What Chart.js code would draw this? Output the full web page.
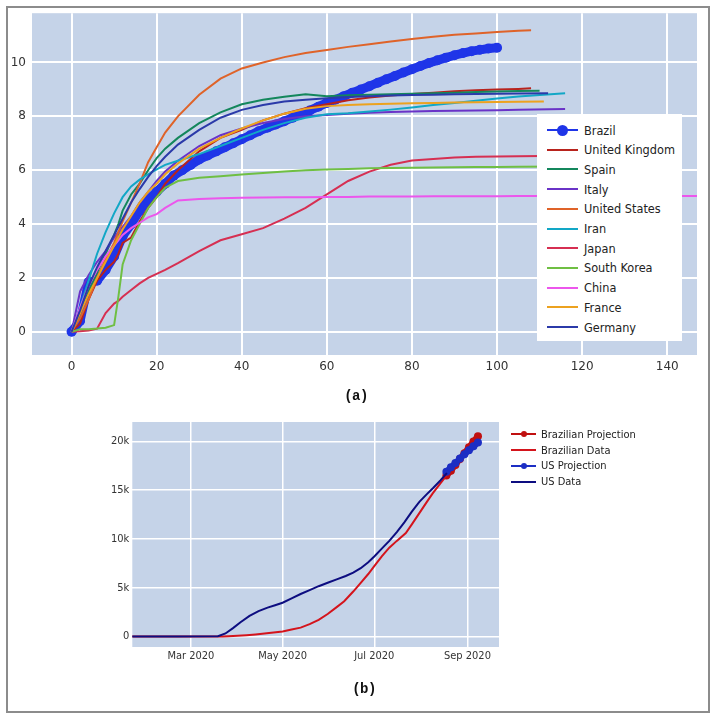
<!DOCTYPE html>
<html>
<head>
<meta charset="utf-8">
<script src="https://cdn.jsdelivr.net/npm/chart.js@4.4.0/dist/chart.umd.min.js"></script>
<style>
  body { margin: 0; width: 716px; height: 720px; position: relative; background: #fff; overflow: hidden; }
  #frame { position: absolute; left: 6px; top: 6px; width: 704px; height: 707px; box-sizing: border-box; border: 2px solid #8c8c8c; }
  canvas { position: absolute; left: 0; }
  #topChart { top: 0; }
  #bottomChart { top: 400px; }
  .legend { position: absolute; font-family: "DejaVu Sans Condensed", "DejaVu Sans", sans-serif; color: #222; }
  #topLegend { left: 537px; top: 114px; width: 145px; height: 227px; font-size: 12.6px; background: #fff; }
  #bottomLegend { left: 508px; top: 424px; width: 190px; height: 70px; font-size: 11px; }
  .row { position: absolute; left: 0; display: flex; align-items: center; white-space: nowrap; }
  .swatch { position: relative; display: inline-block; height: 100%; }
  .swatch .ln { position: absolute; left: 0; right: 0; top: 50%; height: 2px; margin-top: -1px; }
  .swatch .dot { position: absolute; left: 50%; top: 50%; border-radius: 50%; }
  .caption { position: absolute; font-family: "Liberation Mono", "DejaVu Sans Mono", monospace; font-weight: bold; font-size: 14px; letter-spacing: -0.5px; color: #111; transform: translate(-50%, -50%); }
</style>
</head>
<body>
<div id="frame"></div>
<canvas id="topChart" width="716" height="385"></canvas>
<canvas id="bottomChart" width="716" height="270"></canvas>
<div id="topLegend" class="legend"></div>
<div id="bottomLegend" class="legend"></div>
<div class="caption" style="left:356px; top:396px;">(a)</div>
<div class="caption" style="left:364px; top:689px;">(b)</div>
<script>
// ---- chart (a): country curves ----
const countries = ['Brazil', 'United Kingdom', 'Spain', 'Italy', 'United States', 'Iran', 'Japan', 'South Korea', 'China', 'France', 'Germany'];

const brazilDays = [0, 2, 4, 6, 8, 10, 12, 14, 16, 18, 20, 22, 24, 26, 28, 30, 32, 34, 36, 38, 40, 42, 44, 46, 48, 50,
    52, 54, 56, 58, 60, 62, 64, 66, 68, 70, 72, 74, 76, 78, 80, 82, 84, 86, 88, 90, 92, 94, 96, 98, 100];
const brazilValues = [0, 0.4, 1.85, 1.9, 2.3, 2.8, 3.55, 4.0, 4.5, 4.9, 5.2, 5.5, 5.8, 6.0, 6.2, 6.4, 6.55, 6.7, 6.85, 7.0, 7.15,
    7.3, 7.45, 7.58, 7.7, 7.82, 7.95, 8.08, 8.22, 8.36, 8.5, 8.62, 8.75, 8.88, 9.0, 9.12, 9.25, 9.38, 9.5, 9.63, 9.75,
    9.87, 9.98, 10.08, 10.18, 10.27, 10.35, 10.42, 10.47, 10.52, 10.55];

// other countries share this day grid, then end on their own last day
const dayGrid = [0, 2, 4, 6, 8, 10, 11, 12, 14, 16, 18, 20, 22, 25, 30, 35, 40, 45, 50, 55, 60, 65, 70, 75, 80, 85, 90, 95, 100, 105];
const ukValues = [0, 0.3, 1.2, 1.9, 2.3, 2.6, 2.9, 3.3, 3.5, 4.1, 4.6, 5.0, 5.5, 6.0, 6.7, 7.2, 7.5, 7.85, 8.1, 8.3, 8.45, 8.6, 8.7, 8.77, 8.83, 8.88, 8.93, 8.97, 9.0, 9.02];
const spainValues = [0, 0.7, 1.5, 2.2, 2.9, 3.6, 4.0, 4.5, 5.1, 5.5, 6.0, 6.45, 6.8, 7.2, 7.75, 8.15, 8.45, 8.62, 8.73, 8.82, 8.75, 8.78, 8.8, 8.82, 8.84, 8.86, 8.88, 8.9, 8.92, 8.94];
const italyValues = [0, 1.5, 2.1, 2.6, 3.0, 3.5, 3.7, 3.9, 4.3, 4.8, 5.2, 5.6, 5.95, 6.35, 6.9, 7.3, 7.55, 7.75, 7.9, 8.0, 8.05, 8.1, 8.13, 8.16, 8.18, 8.2, 8.21, 8.22, 8.23, 8.25];
const usValues = [0, 0.5, 1.2, 2.0, 2.7, 3.3, 3.7, 4.1, 4.8, 5.5, 6.3, 6.85, 7.4, 8.0, 8.8, 9.4, 9.78, 10.0, 10.2, 10.35, 10.46, 10.58, 10.68, 10.78, 10.87, 10.96, 11.03, 11.08, 11.13, 11.18];
const iranValues = [0, 0.9, 1.9, 2.9, 3.7, 4.4, 4.7, 5.0, 5.4, 5.65, 5.85, 6.03, 6.2, 6.35, 6.6, 6.9, 7.2, 7.5, 7.75, 7.95, 8.08, 8.12, 8.18, 8.25, 8.33, 8.42, 8.5, 8.58, 8.66, 8.74];
const japanValues = [0, 0.02, 0.05, 0.12, 0.7, 1.05, 1.15, 1.3, 1.55, 1.8, 2.0, 2.15, 2.3, 2.55, 3.0, 3.4, 3.62, 3.85, 4.2, 4.6, 5.1, 5.6, 5.95, 6.2, 6.36, 6.42, 6.47, 6.5, 6.51, 6.52];
const koreaValues = [0, 0.1, 0.1, 0.12, 0.15, 0.25, 1.3, 2.5, 3.4, 4.0, 4.6, 5.0, 5.35, 5.6, 5.72, 5.78, 5.84, 5.9, 5.95, 6.0, 6.03, 6.05, 6.07, 6.08, 6.09, 6.1, 6.11, 6.12, 6.12, 6.13];
const chinaValues = [0, 0.9, 1.7, 2.3, 2.8, 3.2, 3.4, 3.6, 3.85, 4.05, 4.25, 4.37, 4.6, 4.88, 4.93, 4.96, 4.98, 4.99, 5.0, 5.0, 5.01, 5.01, 5.02, 5.02, 5.02, 5.03, 5.03, 5.03, 5.03, 5.04];
const franceValues = [0, 0.7, 1.4, 2.0, 2.6, 3.2, 3.5, 3.8, 4.3, 4.8, 5.2, 5.5, 5.85, 6.25, 6.8, 7.2, 7.55, 7.85, 8.1, 8.28, 8.38, 8.42, 8.45, 8.47, 8.49, 8.5, 8.51, 8.52, 8.53, 8.54];
const germanyValues = [0, 0.8, 1.7, 2.4, 3.0, 3.6, 3.9, 4.2, 4.8, 5.3, 5.75, 6.15, 6.5, 6.95, 7.5, 7.95, 8.24, 8.42, 8.55, 8.62, 8.67, 8.72, 8.75, 8.77, 8.79, 8.8, 8.82, 8.83, 8.84, 8.85];
// UK, Spain, Italy, US, Iran, Japan, South Korea, China, France, Germany
const lastDay = [108, 110, 116, 108, 116, 116, 116, 150, 111, 112];
const lastValue = [9.04, 8.95, 8.27, 11.2, 8.86, 6.54, 6.14, 5.04, 8.55, 8.86];

const topXTicks = [0, 20, 40, 60, 80, 100, 120, 140];
const topYTicks = [0, 2, 4, 6, 8, 10];

// ---- chart (b): Brazil vs US ----
const seriesB = ['Brazilian Projection', 'Brazilian Data', 'US Projection', 'US Data'];
// days counted from 22 Jan 2020
const brDays = [0, 40, 60, 64, 70, 76, 82, 88, 94, 100, 106, 112, 118, 124, 130, 136, 141, 147, 152, 157, 161, 166, 171, 176, 182, 186, 191, 196, 200, 205, 209];
const brData = [0, 0, 0, 20, 60, 120, 200, 300, 400, 500, 700, 900, 1250, 1700, 2300, 3000, 3600, 4600, 5500, 6400, 7200, 8200, 9100, 9800, 10600, 11500, 12650, 13800, 14700, 15700, 16500];
const usDays = [0, 30, 57, 62, 67, 72, 78, 84, 90, 95, 100, 106, 112, 118, 124, 130, 136, 142, 147, 152, 157, 161, 166, 171, 176, 181, 186, 191, 196, 200, 205, 209];
const usData = [0, 0, 20, 300, 850, 1450, 2100, 2600, 2950, 3200, 3450, 3900, 4350, 4750, 5150, 5500, 5850, 6200, 6550, 7000, 7600, 8200, 9000, 9800, 10700, 11700, 12800, 13800, 14600, 15200, 16000, 16700];
const projDays = [209, 212, 215, 218, 221, 224, 227, 230];
const brProjection = [16500, 17000, 17600, 18200, 18800, 19400, 20000, 20550];
const usProjection = [16900, 17350, 17800, 18250, 18700, 19100, 19500, 19900];

const bottomXTicks = [39, 100, 161, 223];
const bottomXLabels = ['Mar 2020', 'May 2020', 'Jul 2020', 'Sep 2020'];
const bottomYTicks = [0, 5000, 10000, 15000, 20000];
const bottomYLabels = ['0', '5k', '10k', '15k', '20k'];

// ---- styles ----
const countryColors = ['#1f35e8', '#b8231d', '#14875c', '#6a33c7', '#df6329', '#12a7c6', '#d62f52', '#6fbf43', '#ec56ec', '#eca21f', '#2b3aa9'];
const seriesBColors = ['#c01010', '#d4141c', '#1c2ec4', '#0d0d80'];
const plotColor = '#c5d3e8';
const tickColor = '#333';

const plotBg = {
    id: 'plotBg',
    beforeDraw(chart, args, opts) {
        const {ctx, chartArea} = chart;
        ctx.save();
        ctx.fillStyle = opts.color;
        ctx.fillRect(chartArea.left, chartArea.top, chartArea.width, chartArea.height);
        ctx.restore();
    }
};

function pairs(xs, ys) {
    return ys.map((y, i) => ({x: xs[i], y: y}));
}

const otherValues = [ukValues, spainValues, italyValues, usValues, iranValues, japanValues, koreaValues, chinaValues, franceValues, germanyValues];

// brazil: markers plus a thick line so the marker trail reads as one band
const topDatasets = [{
    label: countries[0],
    data: pairs(brazilDays, brazilValues),
    borderColor: countryColors[0],
    backgroundColor: countryColors[0],
    borderWidth: 9,
    borderCapStyle: 'round',
    borderJoinStyle: 'round',
    pointRadius: 5,
    pointHoverRadius: 5,
    pointBorderWidth: 0,
    order: 20
}];
otherValues.forEach((vals, i) => {
    let pts = pairs(dayGrid, vals);
    pts.push({x: lastDay[i], y: lastValue[i]});
    topDatasets.push({
        label: countries[i + 1],
        data: pts,
        borderColor: countryColors[i + 1],
        backgroundColor: countryColors[i + 1],
        borderWidth: 2,
        pointRadius: 0,
        order: 19 - i
    });
});

function fixTicks(values) {
    return (scale) => {
        scale.ticks = values.map(v => ({value: v}));
    };
}

new Chart(document.getElementById('topChart'), {
    type: 'line',
    data: {datasets: topDatasets},
    plugins: [plotBg],
    options: {
        responsive: false,
        animation: false,
        devicePixelRatio: 1,
        layout: {padding: {left: 0, top: 11, right: 19, bottom: 0}},
        plugins: {legend: {display: false}, tooltip: {enabled: false}, plotBg: {color: plotColor}},
        elements: {line: {tension: 0}},
        scales: {
            x: {
                type: 'linear',
                min: -9.3,
                max: 147,
                afterBuildTicks: fixTicks(topXTicks),
                afterFit: (s) => { s.height = 30; },
                grid: {color: '#fff', lineWidth: 2, drawTicks: false},
                border: {display: false},
                ticks: {color: tickColor, padding: 5, font: {family: 'DejaVu Sans', size: 12}}
            },
            y: {
                type: 'linear',
                min: -0.86,
                max: 11.83,
                afterBuildTicks: fixTicks(topYTicks),
                afterFit: (s) => { s.width = 32; },
                grid: {color: '#fff', lineWidth: 2, drawTicks: false},
                border: {display: false},
                ticks: {color: tickColor, padding: 6, font: {family: 'DejaVu Sans', size: 12}}
            }
        }
    }
});

const bottomDatasets = [
    {label: seriesB[0], data: pairs(projDays, brProjection), pointRadius: 4, borderWidth: 6},
    {label: seriesB[1], data: pairs(brDays, brData), pointRadius: 0, borderWidth: 2},
    {label: seriesB[2], data: pairs(projDays, usProjection), pointRadius: 4, borderWidth: 6},
    {label: seriesB[3], data: pairs(usDays, usData), pointRadius: 0, borderWidth: 2}
].map((ds, i) => Object.assign(ds, {
    borderColor: seriesBColors[i],
    backgroundColor: seriesBColors[i],
    borderCapStyle: 'round',
    pointBorderWidth: 0,
    pointHoverRadius: ds.pointRadius,
    order: 10 - i
}));

new Chart(document.getElementById('bottomChart'), {
    type: 'line',
    data: {datasets: bottomDatasets},
    plugins: [plotBg],
    options: {
        responsive: false,
        animation: false,
        devicePixelRatio: 1,
        layout: {padding: {left: 100, top: 22, right: 217, bottom: 0}},
        plugins: {legend: {display: false}, tooltip: {enabled: false}, plotBg: {color: plotColor}},
        elements: {line: {tension: 0}},
        scales: {
            x: {
                type: 'linear',
                min: 0,
                max: 244,
                afterBuildTicks: fixTicks(bottomXTicks),
                afterFit: (s) => { s.height = 23; },
                grid: {color: '#fff', lineWidth: 1.5, drawTicks: false},
                border: {display: false},
                ticks: {
                    color: tickColor, padding: 3, font: {family: 'DejaVu Sans Condensed', size: 11},
                    callback: (v) => bottomXLabels[bottomXTicks.indexOf(v)]
                }
            },
            y: {
                type: 'linear',
                min: -1090,
                max: 22000,
                afterBuildTicks: fixTicks(bottomYTicks),
                afterFit: (s) => { s.width = 32.3; },
                grid: {color: '#fff', lineWidth: 1.5, drawTicks: false},
                border: {display: false},
                ticks: {
                    color: tickColor, padding: 3, font: {family: 'DejaVu Sans Condensed', size: 11},
                    callback: (v) => bottomYLabels[bottomYTicks.indexOf(v)]
                }
            }
        }
    }
});

// ---- html legends ----
function buildLegend(box, names, colors, opts) {
    names.forEach((name, i) => {
        let row = document.createElement('div');
        row.className = 'row';
        row.style.top = (opts.first + i * opts.step - opts.rowH / 2) + 'px';
        row.style.height = opts.rowH + 'px';
        row.style.left = opts.swatchLeft + 'px';
        let sw = document.createElement('span');
        sw.className = 'swatch';
        sw.style.width = opts.swatchW + 'px';
        sw.innerHTML = '<span class="ln" style="background:' + colors[i] + '"></span>';
        let r = opts.dots[i];
        if (r) {
            sw.innerHTML += '<span class="dot" style="background:' + colors[i] + ';width:' + (2 * r) + 'px;height:' + (2 * r) +
                'px;margin-left:' + (-r) + 'px;margin-top:' + (-r) + 'px"></span>';
        }
        let label = document.createElement('span');
        label.textContent = name;
        label.style.marginLeft = opts.gap + 'px';
        row.appendChild(sw);
        row.appendChild(label);
        box.appendChild(row);
    });
}

buildLegend(document.getElementById('topLegend'), countries, countryColors, {
    first: 16, step: 19.7, rowH: 19, swatchLeft: 10, swatchW: 31, gap: 6,
    dots: [5.5, 0, 0, 0, 0, 0, 0, 0, 0, 0, 0]
});
buildLegend(document.getElementById('bottomLegend'), seriesB, seriesBColors, {
    first: 10.3, step: 15.8, rowH: 15, swatchLeft: 3, swatchW: 25, gap: 5,
    dots: [3, 0, 3, 0]
});
</script>
</body>
</html>
